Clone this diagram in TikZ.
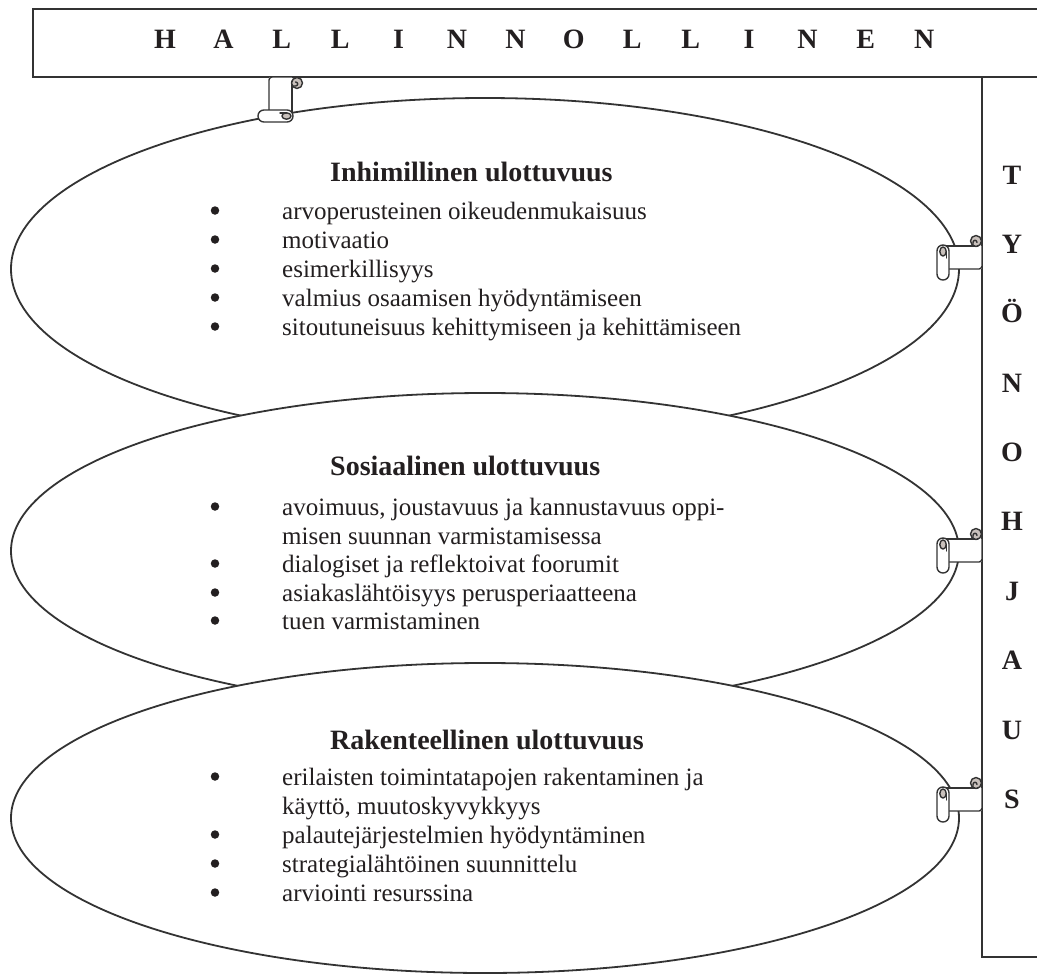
\documentclass[tikz,border=0pt]{standalone}
\usepackage{fontspec}
\setmainfont{Liberation Serif}
\definecolor{linegrey}{HTML}{333333}
\definecolor{ink}{HTML}{231F20}
\definecolor{curlgrey}{HTML}{C9C1BC}
\tikzset{
  frame/.style={draw=linegrey, line width=1.8pt},
  oval/.style={draw=linegrey, line width=1.8pt, fill=white},
  scrl/.style={draw=linegrey, line width=1.4pt, line join=round, line cap=round},
  txt/.style={font=\fontsize{25}{29}\selectfont, text=ink, inner sep=0pt, anchor=base west},
  bul/.style={circle, fill=ink, inner sep=0pt, minimum size=8.5pt},
  ttl/.style={font=\bfseries\fontsize{28}{32}\selectfont, text=ink, inner sep=0pt, anchor=base west},
  barletter/.style={font=\bfseries\fontsize{28}{32}\selectfont, text=ink, inner sep=0pt, anchor=base},
  % a small paper scroll hanging from a bar; origin = where the sheet meets the bar
  scrollh/.pic={
    \fill[white] (-39,0) rectangle (0,23);
    \draw[scrl] (-39,0) -- (-4,0);
    \draw[scrl, rounded corners=3] (0,-2) -- (0,23) -- (-39,23);
    \draw[scrl, fill=white, rounded corners=5.9] (-45,-1) rectangle (-33,34);
    \draw[scrl, fill=curlgrey] (-39,5.5) ellipse [x radius=3.2, y radius=4.6];
    \draw[scrl] (-35.8,5.5) -- (-35.8,12);
    \draw[scrl, fill=curlgrey] (-6,-5) circle [radius=5.5];
    \draw[scrl] (-9,0) -- (-9,-3.5) .. controls (-9,-6.5) and (-5,-6.5) .. (-5,-3.5);
  }
}
\newcommand\bulletline[3]{%
  \node[bul] (#1b) at (215,#2-8.5) {};
  \node[txt] (#1) at (282,#2) {#3};}
\begin{document}
\begin{tikzpicture}[x=1pt,y=-1pt]
\useasboundingbox (0,0) rectangle (1037,975);
\fill[white] (0,0) rectangle (1037,975);

% top bar (runs off to the right)
\draw[frame] (1037,9) -- (33,9) -- (33,77) -- (1037,77);
% right-hand bar
\draw[frame] (982,77) -- (982,957) -- (1037,957);

% the three dimensions, later ovals lying over the earlier ones
\draw[oval] (485,269) ellipse [x radius=474, y radius=171];
\draw[oval] (485,551) ellipse [x radius=474, y radius=158];
\draw[oval] (485,818) ellipse [x radius=474, y radius=155];

% scrolls fastening the ovals to the bars
\pic[cm={0,1,1,0,(292,77)}] {scrollh};
\pic at (982,246) {scrollh};
\pic at (982,539) {scrollh};
\pic at (982,788) {scrollh};

% bar captions
\foreach \ch [count=\i from 0] in {H,A,L,L,I,N,N,O,L,L,I,N,E,N}
  \node[barletter] (top\i) at ({165+58.4*\i},48) {\ch};
\foreach \ch/\yy [count=\i] in {T/184,Y/253,Ö/322,N/392,O/461,H/530,J/600,A/669,U/739,S/808}
  \node[barletter] (side\i) at (1012,\yy) {\ch};

% human dimension
\node[ttl] (s1t) at (330,181) {Inhimillinen ulottuvuus};
\bulletline{s1a}{219}{arvoperusteinen oikeudenmukaisuus}
\bulletline{s1b}{248}{motivaatio}
\bulletline{s1c}{277}{esimerkillisyys}
\bulletline{s1d}{306}{valmius osaamisen hyödyntämiseen}
\bulletline{s1e}{335}{sitoutuneisuus kehittymiseen ja kehittämiseen}

% social dimension
\node[ttl] (s2t) at (330,475) {Sosiaalinen ulottuvuus};
\bulletline{s2a}{515}{avoimuus, joustavuus ja kannustavuus oppi-}
\node[txt] (s2a2) at (282,544) {misen suunnan varmistamisessa};
\bulletline{s2b}{572}{dialogiset ja reflektoivat foorumit}
\bulletline{s2c}{601}{asiakaslähtöisyys perusperiaatteena}
\bulletline{s2d}{629}{tuen varmistaminen}

% structural dimension
\node[ttl] (s3t) at (330,749) {Rakenteellinen ulottuvuus};
\bulletline{s3a}{785}{erilaisten toimintatapojen rakentaminen ja}
\node[txt] (s3a2) at (282,814) {käyttö, muutoskyvykkyys};
\bulletline{s3b}{843}{palautejärjestelmien hyödyntäminen}
\bulletline{s3c}{872}{strategialähtöinen suunnittelu}
\bulletline{s3d}{901}{arviointi resurssina}
\end{tikzpicture}
\end{document}
